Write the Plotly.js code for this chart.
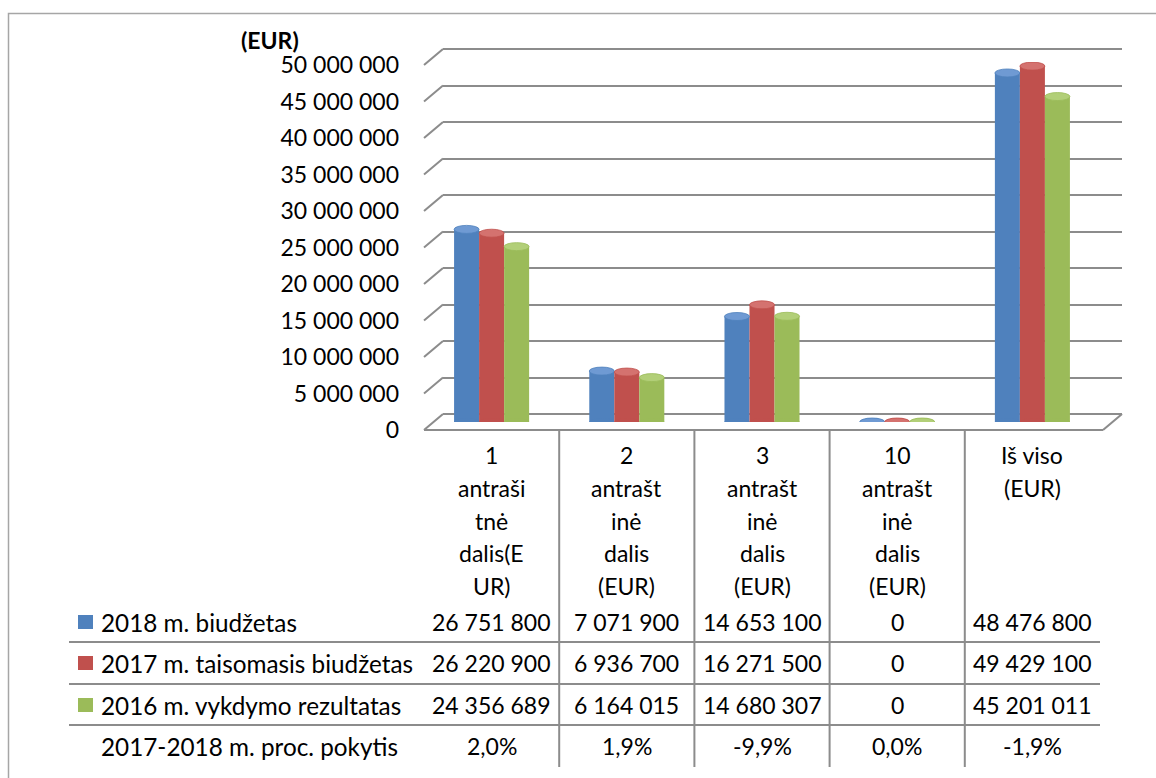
<!DOCTYPE html>
<html>
<head>
<meta charset="utf-8">
<script src="https://cdn.plot.ly/plotly-3.0.1.min.js"></script>
<style>html,body{margin:0;padding:0;background:#fff;}#chart{width:1156px;height:778px;}</style>
</head>
<body>
<div id="chart"></div>
<script>
// ---------------- data ----------------
const categories = ["1 antraštinė dalis(EUR)", "2 antraštinė dalis (EUR)", "3 antraštinė dalis (EUR)", "10 antraštinė dalis (EUR)", "Iš viso (EUR)"];
const headerLines = [
  ["1", "antraši", "tnė", "dalis(E", "UR)"],
  ["2", "antrašt", "inė", "dalis", "(EUR)"],
  ["3", "antrašt", "inė", "dalis", "(EUR)"],
  ["10", "antrašt", "inė", "dalis", "(EUR)"],
  ["Iš viso", "(EUR)"]
];
const seriesNames = ["2018 m. biudžetas", "2017 m. taisomasis biudžetas", "2016 m. vykdymo rezultatas"];
const budget2018 = [26751800, 7071900, 14653100, 0, 48476800];
const budget2017 = [26220900, 6936700, 16271500, 0, 49429100];
const result2016 = [24356689, 6164015, 14680307, 0, 45201011];
const changeLabel = "2017-2018 m. proc. pokytis";
const changePct = [2.0, 1.9, -9.9, 0.0, -1.9];
const unitLabel = "(EUR)";
const yMax = 50000000;
const yStep = 5000000;

// ---------------- style / geometry ----------------
const seriesValues = [budget2018, budget2017, result2016];
const colors = ["#4F81BD", "#C0504D", "#9BBB59"];
const capColors = ["#6F9AD3", "#D4726F", "#B2CF78"];
const W = 1156, H = 778;
const fx = p => p / W, fy = p => 1 - p / H;
const FONT = 'Lato, "Noto Sans", sans-serif';
const TXT = "#000";
const grid = "#8c8c8c";

const tableLeft = 424, tableRight = 1100;
const colW = (tableRight - tableLeft) / categories.length;
const bargap = 0.445;
const groupW = 1 - bargap;

const fmt = n => String(n).replace(/\B(?=(\d{3})+(?!\d))/g, " ");
const fmtPct = v => v.toFixed(1).replace(".", ",") + "%";

// ---------------- traces ----------------
const traces = [];
// back wall subplot (gridlines)
traces.push({type: "scatter", x: [], y: [], xaxis: "x", yaxis: "y", hoverinfo: "skip", showlegend: false});
// bars
seriesValues.forEach((vals, j) => {
  traces.push({
    type: "bar", x: categories, y: vals, name: seriesNames[j],
    xaxis: "x2", yaxis: "y2",
    marker: {color: colors[j], line: {width: 0}},
    hoverinfo: "skip", showlegend: false
  });
});
// front tick labels axis
traces.push({type: "scatter", x: [], y: [], xaxis: "x2", yaxis: "y3", hoverinfo: "skip", showlegend: false});

// ---------------- shapes ----------------
const shapes = [];
// outer border
shapes.push({type: "rect", xref: "paper", yref: "paper", x0: fx(8.5), x1: fx(1175), y0: fy(13.5), y1: fy(800),
  line: {color: "#a6a6a6", width: 1.5}, fillcolor: "rgba(0,0,0,0)", layer: "below"});
// perspective ticks from the front label plane to the back wall, plus the edge gridlines
for (let v = 0; v <= yMax; v += yStep) {
  shapes.push({type: "line", xref: "paper", yref: "y domain", xsizemode: "pixel", ysizemode: "pixel",
    xanchor: fx(443), yanchor: v / yMax, x0: 0, x1: -19, y0: 0, y1: -16,
    line: {color: grid, width: 2}, layer: "below"});
}
[0, 1].forEach(d => shapes.push({type: "line", xref: "paper", yref: "y domain", x0: fx(443), x1: fx(1122), y0: d, y1: d,
  line: {color: grid, width: 2}, layer: "below"}));
// floor front edge and right edge
shapes.push({type: "line", xref: "paper", yref: "y domain", ysizemode: "pixel", yanchor: 0,
  x0: fx(424), x1: fx(1103), y0: -16, y1: -16, line: {color: grid, width: 2}, layer: "below"});
shapes.push({type: "line", xref: "paper", yref: "y domain", xsizemode: "pixel", ysizemode: "pixel",
  xanchor: fx(1122), yanchor: 0, x0: 0, x1: -19, y0: 0, y1: -16, line: {color: grid, width: 2}, layer: "below"});
// cylinder caps and rounded bottoms
seriesValues.forEach((vals, j) => {
  vals.forEach((v, i) => {
    const x0 = i + (j - 1.5) * groupW / 3, x1 = i + (j - 0.5) * groupW / 3;
    shapes.push({type: "circle", xref: "x2", yref: "y2", ysizemode: "pixel", yanchor: 0,
      x0: x0, x1: x1, y0: -4, y1: 4, fillcolor: colors[j], line: {width: 0}});
    shapes.push({type: "circle", xref: "x2", yref: "y2", ysizemode: "pixel", yanchor: v,
      x0: x0, x1: x1, y0: -4, y1: 4, fillcolor: capColors[j], line: {color: colors[j], width: 0.8}});
  });
});
// data table lines
for (let k = 1; k < categories.length; k++) {
  const x = tableLeft + colW * k;
  shapes.push({type: "line", xref: "paper", yref: "paper", x0: fx(x), x1: fx(x), y0: fy(430), y1: fy(767),
    line: {color: grid, width: 2}});
}
const rowY = [622, 663, 705, 746];
const rowLines = [642, 684, 725];
rowLines.forEach(y => {
  shapes.push({type: "line", xref: "paper", yref: "paper", x0: fx(69), x1: fx(tableRight), y0: fy(y), y1: fy(y),
    line: {color: grid, width: 2}});
});
// legend keys
seriesNames.forEach((n, j) => {
  shapes.push({type: "rect", xref: "paper", yref: "paper", x0: fx(78), x1: fx(93), y0: fy(rowY[j] - 7), y1: fy(rowY[j] + 7),
    fillcolor: colors[j], line: {width: 0}});
});

// ---------------- annotations ----------------
const annotations = [];
const txt = (text, x, y, anchor, size) => ({
  text: text, xref: "paper", yref: "paper", x: fx(x), y: fy(y), xanchor: anchor, yanchor: "middle",
  showarrow: false, font: {family: FONT, size: size || 23, color: TXT}
});
annotations.push(txt("<b>" + unitLabel + "</b>", 270, 40, "center"));
headerLines.forEach((lines, i) => {
  const cx = tableLeft + colW * (i + 0.5);
  lines.forEach((l, k) => annotations.push(txt(l, cx, 455 + 32.75 * k, "center")));
});
seriesNames.forEach((n, j) => {
  annotations.push(txt(n, 99, rowY[j], "left", 24.3));
  seriesValues[j].forEach((v, i) => {
    annotations.push(txt(fmt(v), tableLeft + colW * (i + 0.5), rowY[j], "center"));
  });
});
annotations.push(txt(changeLabel, 99, rowY[3], "left", 24.3));
changePct.forEach((v, i) => annotations.push(txt(fmtPct(v), tableLeft + colW * (i + 0.5), rowY[3], "center")));

// ---------------- layout ----------------
const layout = {
  width: W, height: H,
  margin: {l: 0, r: 0, t: 0, b: 0},
  paper_bgcolor: "#fff", plot_bgcolor: "rgba(0,0,0,0)",
  separators: ", ",
  showlegend: false, hovermode: false,
  font: {family: FONT, size: 23, color: TXT},
  barmode: "group", bargap: bargap, bargroupgap: 0,
  xaxis: {domain: [fx(443), fx(1122)], range: [0, 1], visible: false, fixedrange: true},
  yaxis: {domain: [fy(414), fy(49)], range: [0, yMax], dtick: yStep, tick0: 0,
    showgrid: true, gridcolor: grid, gridwidth: 2, zeroline: false, showline: false,
    showticklabels: false, ticks: "", fixedrange: true},
  xaxis2: {domain: [fx(tableLeft), fx(tableRight)], range: [-0.5, categories.length - 0.5], type: "category",
    showgrid: false, zeroline: false, showline: false, showticklabels: false, ticks: "", fixedrange: true},
  yaxis2: {domain: [fy(422), fy(62)], range: [0, yMax], visible: false, fixedrange: true},
  yaxis3: {domain: [fy(430), fy(65)], range: [0, yMax], dtick: yStep, tick0: 0, anchor: "x2",
    tickformat: ",d", showgrid: false, zeroline: false, showline: false, ticks: "",
    ticklabelstandoff: 24, tickfont: {family: FONT, size: 23, color: TXT}, fixedrange: true},
  shapes: shapes,
  annotations: annotations
};

Plotly.newPlot("chart", traces, layout, {displayModeBar: false, staticPlot: true});
</script>
</body>
</html>
